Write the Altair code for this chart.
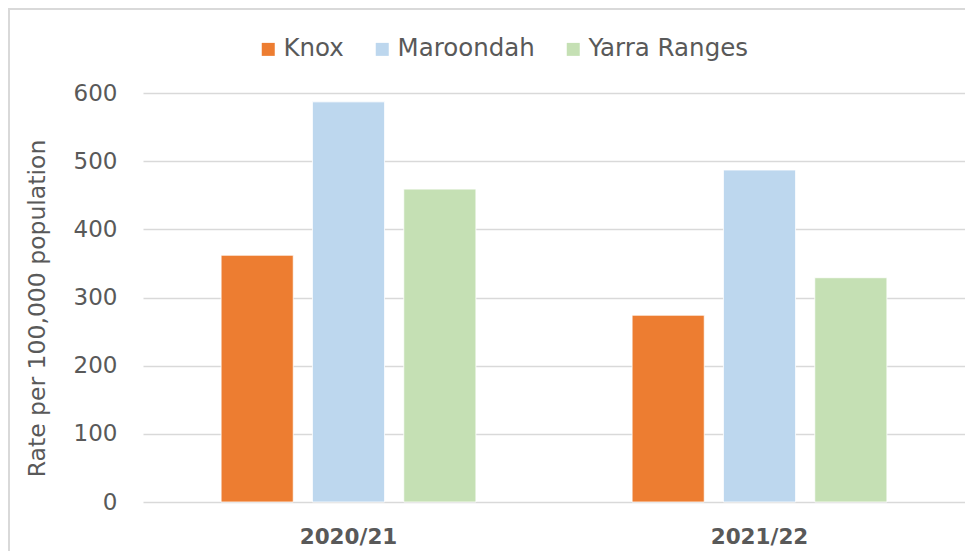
import altair as alt
import pandas as pd

years = ["2020/21", "2021/22"]
councils = ["Knox", "Maroondah", "Yarra Ranges"]
knox = [362, 274]
maroondah = [587, 487]
yarra = [459, 329]
colors = ["#ED7D31", "#BDD7EE", "#C5E0B4"]

rows = []
for i, y in enumerate(years):
    for c, vals in zip(councils, [knox, maroondah, yarra]):
        rows.append({"year": y, "council": c, "rate": vals[i]})
df = pd.DataFrame(rows)

FONT = "DejaVu Sans"
TXT = "#595959"

bars = alt.Chart(df).mark_bar(stroke="white", strokeWidth=0.8).encode(
    x=alt.X("year:N", sort=years,
            scale=alt.Scale(paddingInner=0.38, paddingOuter=0.19),
            axis=alt.Axis(title=None, labelAngle=0, domain=False, ticks=False,
                          labelFont=FONT, labelFontSize=21.5, labelFontWeight="bold",
                          labelColor=TXT, labelPadding=24, labelBaseline="top")),
    xOffset=alt.XOffset("council:N", sort=councils,
                        scale=alt.Scale(paddingInner=0.21, paddingOuter=0)),
    y=alt.Y("rate:Q", scale=alt.Scale(domain=[0, 600], nice=False),
            axis=alt.Axis(title="Rate per 100,000 population", values=[0, 100, 200, 300, 400, 500, 600],
                          domain=False, ticks=False, gridColor="#d9d9d9", gridWidth=1.5,
                          labelFont=FONT, labelFontSize=23, labelColor=TXT, labelPadding=26,
                          titleFont=FONT, titleFontSize=23.5, titleFontWeight="normal",
                          titleColor=TXT, titleX=-106, titleY=215, titleAngle=270,
                          titleBaseline="middle", titleAlign="center")),
    color=alt.Color("council:N", sort=councils,
                    scale=alt.Scale(domain=councils, range=colors),
                    legend=alt.Legend(title=None, orient="none", direction="horizontal",
                                      legendX=113, legendY=-56, symbolType="square",
                                      symbolSize=169, symbolStrokeWidth=0, labelFont=FONT,
                                      labelFontSize=24.5, labelColor=TXT, labelOffset=3,
                                      columnPadding=26)),
)

border = alt.Chart(alt.Data(values=[{"a": 1}])).mark_rect(
    fillOpacity=0, stroke="#d9d9d9", strokeWidth=2
).encode(x=alt.value(-134), x2=alt.value(860), y=alt.value(-84), y2=alt.value(500))

chart = alt.layer(border, bars).properties(
    width=822, height=409,
    autosize=alt.AutoSizeParams(type="none"),
    padding={"left": 135, "top": 85, "right": 0, "bottom": 49},
).configure_view(stroke=None)

chart.save("out.html", embed_options={"renderer": "svg", "actions": False})
